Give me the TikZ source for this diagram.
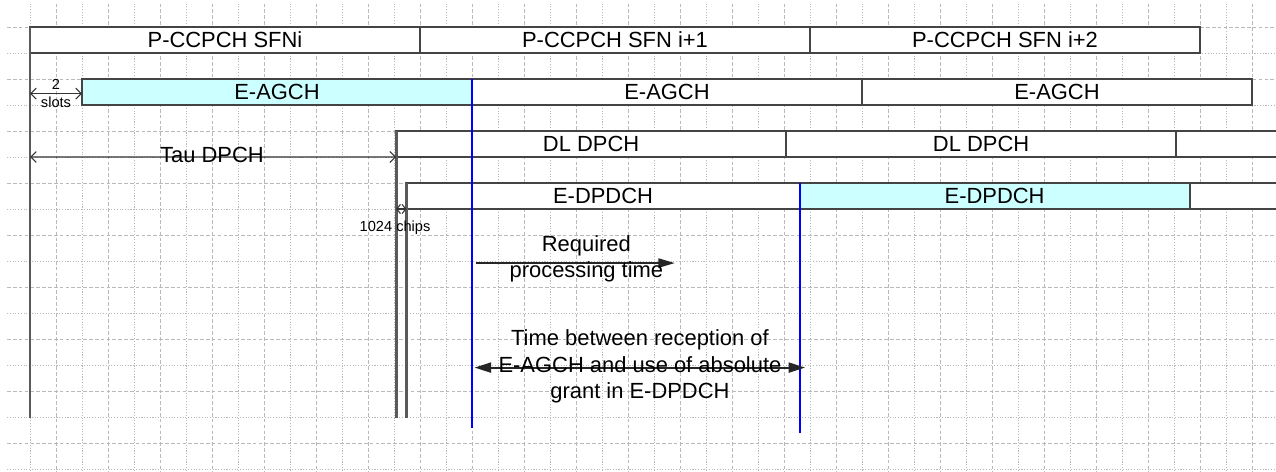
\documentclass[tikz,border=0pt]{standalone}
\usepackage{fontspec}
\setmainfont{Liberation Sans}
\usetikzlibrary{arrows.meta, positioning}
\definecolor{gridgray}{RGB}{185,185,185}
\definecolor{boxgray}{RGB}{68,68,68}
\definecolor{railgray}{RGB}{90,90,90}
\definecolor{agcyan}{RGB}{204,255,255}
\definecolor{markblue}{RGB}{0,0,255}

\tikzset{
  slot/.style={draw=boxgray, line width=1.1pt, fill=white, minimum height=0.5cm,
    minimum width=7.5cm, inner sep=0pt, outer sep=0pt,
    font=\fontsize{12}{14.5}\selectfont},
  gridline/.style={gridgray, line width=0.5pt},
  rail/.style={railgray, line width=1.6pt},
  marker/.style={markblue, line width=1pt},
  dim/.style={black!80, line width=0.6pt, {Straight Barb[length=3pt,width=6pt]}-{Straight Barb[length=3pt,width=6pt]}},
  span/.style={black!85, line width=1pt},
  small/.style={font=\fontsize{8}{9}\selectfont, inner sep=0pt},
  note/.style={font=\fontsize{12}{14.5}\selectfont, align=center, inner sep=0pt},
}

\begin{document}
\begin{tikzpicture}[x=0.5cm, y=0.5cm]
  \useasboundingbox (-1.154,1.038) rectangle (47.923,-17.115);
  \clip (-1.154,1.038) rectangle (47.923,-17.115);
  \fill[white] (-1.154,1.038) rectangle (47.923,-17.115);

  % grid
  \foreach \x in {1,3,...,47}
    \draw[gridline, dash pattern=on 2pt off 1.2pt] (\x,0.9) -- (\x,-17.2);
  \foreach \x in {0,2,...,46}
    \draw[gridline, dash pattern=on 0.6pt off 0.9pt] (\x,0.9) -- (\x,-17.2);
  \foreach \y in {0,-2,...,-16}
    \draw[gridline, dash pattern=on 2pt off 1.2pt] (-0.88,\y) -- (48,\y);
  \foreach \y in {-1,-3,...,-17}
    \draw[gridline, dash pattern=on 0.6pt off 0.9pt] (-0.88,\y) -- (48,\y);

  % frames
  \node[slot, anchor=north west] (sfn0) at (0,0) {P-CCPCH SFNi};
  \node[slot, right=0pt of sfn0] (sfn1) {P-CCPCH SFN i+1};
  \node[slot, right=0pt of sfn1] (sfn2) {P-CCPCH SFN i+2};

  \node[slot, fill=agcyan, anchor=north west] (agch0) at (2,-2) {E-AGCH};
  \node[slot, right=0pt of agch0] (agch1) {E-AGCH};
  \node[slot, right=0pt of agch1] (agch2) {E-AGCH};

  \node[slot, anchor=north west] (dpch0) at (14.08,-4) {DL DPCH};
  \node[slot, right=0pt of dpch0] (dpch1) {DL DPCH};
  \node[slot, right=0pt of dpch1] (dpch2) {};

  \node[slot, minimum width=7.56cm, anchor=north west] (edch0) at (14.48,-6) {E-DPDCH};
  \node[slot, fill=agcyan, right=0pt of edch0] (edch1) {E-DPDCH};
  \node[slot, right=0pt of edch1] (edch2) {};

  % timing lines
  \coordinate (bottom) at (0,-15.05);
  \coordinate (recvEnd) at (17.04,-15.42);
  \coordinate (useEnd) at (29.6,-15.6);
  \draw[rail] (sfn0.north west) -- (bottom);
  \draw[rail] (dpch0.north west) -- (dpch0.north west |- bottom);
  \draw[rail] (edch0.north west) -- (edch0.north west |- bottom);
  \draw[marker] (agch1.north west) -- (agch1.north west |- recvEnd);
  \draw[marker] (edch1.north west) -- (edch1.north west |- useEnd);

  % offsets
  \coordinate (slotsL) at (0,-2.56);
  \draw[dim] (slotsL) -- (slotsL -| agch0.west);
  \node[small] (two) at (1,-2.2) {2};
  \node[small] (slots) at (1,-2.9) {slots};

  \coordinate (tauL) at (0,-5);
  \draw[dim] (tauL) -- (dpch0.south west);
  \node[note] (tau) at (7,-4.93) {Tau DPCH};

  \draw[dim, {Straight Barb[length=2pt,width=5pt]}-{Straight Barb[length=2pt,width=5pt]}]
    (dpch0.south west |- edch0.south) -- (edch0.south west);
  \node[small] (chips) at (14.04,-7.72) {1024 chips};

  % processing times
  \coordinate (reqL) at (17.15,-9.08);
  \coordinate (reqR) at (24.8,-9.08);
  \draw[span, -{Triangle[length=9pt,width=5pt]}] (reqL) -- (reqR);
  \node[note] (req) at (21.4,-8.92) {Required\\processing time};

  \coordinate (gapL) at (17.1,-13.1);
  \coordinate (gapR) at (29.81,-13.1);
  \draw[span, {Triangle[length=9pt,width=5.5pt]}-{Triangle[length=9pt,width=5.5pt]}] (gapL) -- (gapR);
  \node[note] (gap) at (23.46,-13.06) {Time between reception of\\E-AGCH and use of absolute\\grant in E-DPDCH};
\end{tikzpicture}
\end{document}
